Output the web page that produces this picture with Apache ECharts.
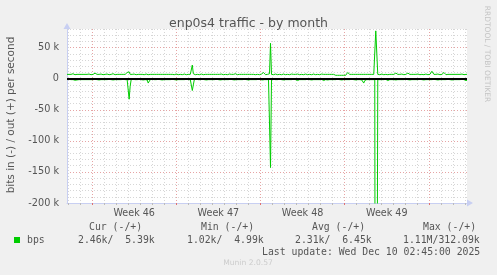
<!DOCTYPE html>
<html><head><meta charset="utf-8">
<script src="https://cdn.jsdelivr.net/npm/echarts@6/dist/echarts.min.js"></script>
<style>html,body{margin:0;padding:0;background:#f0f0f0;}#c{width:497px;height:275px;}</style>
</head><body><div id="c"></div>
<script>
// Time slots: one per 2 hours, 400 slots (~33 days)
const slotCount = 400;
const dayGridStart = 1;      // first slot on a day boundary
const slotsPerDay = 12;
const weekLineSlots = [25, 109, 193, 277, 361];
const weekLabelSlots = [67, 151, 235, 319];
const weekLabels = ['Week 46', 'Week 47', 'Week 48', 'Week 49'];
const yTicks = [-200, -150, -100, -50, 0, 50];

// out (+) traffic, kbit/s
const outVals = [
7,7.5,7,6.5,7,7,8,7,6.5,7,7,7.5,7,6.5,7,7,7,7.5,7,6.5,
7,7,7.5,7,6.5,7,7,7,9,8,7,6.5,7,7,7.5,7,6.5,7,7,7,
7.5,7,6.5,7,7,7,8,7,6.5,7,7,7.5,7,6.5,7,7,7,6.5,7,9,
10,7.5,11,7,6.5,7,7,7.5,7,6.5,7,7,8,7,6.5,7,7,6.5,7,7.5,
7,6.5,7,7,7.5,7,6.5,7,8.5,7,6.5,7,7,7,6.5,7,7.5,7,6.5,7,
7,7,6.5,7,7.5,7,7,6.5,7,7.5,7,6.5,9,7,7,6.5,7,7.5,7,6.5,
7,7,6.5,7,9,22,8,7,6.5,7,7,7,6.5,7,7.5,7,6.5,7,7,6.5,
7,7.5,7,6.5,7,7,7,6.5,7,8.5,7,6.5,7,7,7.5,7,6.5,7,7,7,
6.5,7,7.5,7,7,6.5,7,7,8,7,6.5,7,7,7.5,7,6.5,7,7,7,6.5,
7,7.5,7,6.5,7,7,7,7.5,6.5,7,7,7,6.5,7,7.5,8,10,7,6.5,7,
7,7,8,57,7,7,6.5,7,7.5,7,6.5,7,7,7,6.5,7,7.5,7,6.5,7,
7,7,6.5,7,7.5,7,7,6.5,7,7,7.5,7,6.5,7,7,7,6.5,7,7.5,7,
6.5,7,7,7,6.5,7,7.5,7,6.5,7,7,7,6.5,7,7.5,7,7,6.5,7,7,
7,6.5,7,7.5,7,6.5,7,6,5.5,5.5,5.5,5.5,5.5,5.5,5.5,5.5,5.5,5.5,5.5,6,
10,7,7,6.5,7,7.5,7,6.5,7,7,7,6.5,7,7.5,7,6.5,7,7,7,6.5,
7,7.5,7,6.5,7,7,7,6.5,77,77,7,7,6.5,7,7.5,7,6.5,7,7,7,
6.5,7,7,7.5,7,6.5,7,7,9,8,7,6.5,7,7,7.5,7,6.5,7,7,7,
9,7.5,7,6.5,7,7,7,6.5,7,7,7.5,7,6.5,7,7,7,6.5,7,7.5,7,
6.5,7,7,7,12,10,7,6.5,7,7,7.5,7,6.5,7,7,7,10,7,6.5,7,
7,7.5,7,9,7,6.5,7,7,7,9,7,6.5,7,7,7.5,7,6.5,7,7,7
];
// in (-) traffic, kbit/s (drawn negative)
const inVals = [
-1.5,-1.5,-1,-1.5,-1.5,-2,-1.5,-1.5,-2.5,-3.5,-2,-1.5,-1.5,-1,-1.5,-1.5,-1.5,-2,-1.5,-1.5,
-1.5,-1,-1.5,-1.5,-1.5,-2,-1.5,-1.5,-1,-1.5,-1.5,-1.5,-2,-1.5,-1.5,-1,-1.5,-1.5,-1.5,-2,
-1.5,-1.5,-1,-1.5,-1.5,-1.5,-2,-1.5,-1.5,-1,-1.5,-1.5,-1.5,-2,-1.5,-1.5,-1,-1.5,-1.5,-2,
-1.5,-3,-33,-12,-1.5,-1.5,-1,-1.5,-1.5,-2,-1.5,-1.5,-1,-1.5,-1.5,-1.5,-2,-1.5,-1.5,-1,
-2,-7,-4,-1.5,-1.5,-1,-1.5,-1.5,-2,-1.5,-1.5,-1,-1.5,-1.5,-1.5,-2,-1.5,-1.5,-1,-1.5,
-1.5,-1.5,-2,-1.5,-1.5,-1,-1.5,-1.5,-1.5,-2,-1.5,-1.5,-1,-1.5,-1.5,-1.5,-2,-1.5,-1.5,-1,
-2.5,-1.5,-1.5,-1.5,-4,-19,-10,-1.5,-1.5,-1,-1.5,-1.5,-2,-1.5,-1.5,-1,-1.5,-1.5,-1.5,-2,
-1.5,-1.5,-1,-1.5,-1.5,-1.5,-2,-1.5,-1.5,-1,-1.5,-1.5,-1.5,-2,-1.5,-1.5,-1,-1.5,-1.5,-1.5,
-2,-1.5,-1.5,-1,-1.5,-1.5,-1.5,-2,-1.5,-1.5,-1,-1.5,-1.5,-1.5,-2,-1.5,-1.5,-1,-1.5,-1.5,
-1.5,-2,-1.5,-1.5,-1,-1.5,-1.5,-1.5,-2,-1.5,-1.5,-1,-1.5,-1.5,-1.5,-2,-1.5,-1.5,-1,-1.5,
-1.5,-1.5,-2,-143,-1.5,-1.5,-1,-1.5,-1.5,-2,-1.5,-1.5,-1,-1.5,-1.5,-1.5,-2,-1.5,-1.5,-1,
-1.5,-1.5,-1.5,-2,-1.5,-1.5,-1,-1.5,-1.5,-2,-3,-1.5,-1.5,-1,-1.5,-1.5,-1.5,-2,-1.5,-1.5,
-1,-1.5,-1.5,-1.5,-2,-1.5,-1.5,-1,-1.5,-1.5,-1.5,-2,-1.5,-1.5,-1,-1.5,-3,-1.5,-1.5,-1.5,
-2,-1.5,-1.5,-1,-1.5,-1.5,-1.5,-2,-1.5,-1.5,-1,-1.5,-1.5,-1.5,-2,-1.5,-1.5,-1,-1.5,-1.5,
-1.5,-2,-1.5,-1.5,-1,-1.5,-1.5,-1.5,-2,-1.5,-1.5,-1,-1.5,-1.5,-2,-4,-7,-3,-1.5,-1.5,
-1,-1.5,-1.5,-1.5,-2,-1.5,-1.5,-1.5,-1110,-1110,-1.5,-1,-1.5,-1.5,-1.5,-2,-1.5,-1.5,-1,-1.5,
-3,-1.5,-1.5,-1,-1.5,-1.5,-1.5,-3,-2,-1.5,-1.5,-1,-1.5,-1.5,-1.5,-2,-1.5,-1.5,-1,-1.5,
-1.5,-1.5,-2,-1.5,-1.5,-1,-1.5,-1.5,-1.5,-2,-1.5,-1.5,-1,-1.5,-1.5,-1.5,-2,-1.5,-1.5,-1,
-1.5,-1.5,-1.5,-2,-1.5,-1.5,-1,-1.5,-1.5,-1.5,-2,-1.5,-1.5,-1,-1.5,-1.5,-1.5,-2,-1.5,-1.5,
-1,-1.5,-1.5,-1.5,-2,-1.5,-1.5,-1,-1.5,-1.5,-1.5,-2,-1.5,-1.5,-1,-1.5,-1.5,-1.5,-3,-2.5
];

// Legend statistics
const statHeaders = ['Cur (-/+)', 'Min (-/+)', 'Avg (-/+)', 'Max (-/+)'];
const statIn  = ['2.46k', '1.02k', '2.31k', '1.11M'];
const statOut = ['5.39k', '4.99k', '6.45k', '312.09k'];
const seriesName = 'bps';
const lastUpdate = 'Last update: Wed Dec 10 02:45:00 2025';

const categories = [];
for (let i = 0; i < slotCount; i++) categories.push(String(i));

const GREEN = '#00cc00';
const TXT = '#555555';
const AXIS = '#c8cff2';
const MINOR = '#d6d6d6';
const MAJOR = '#e6a4a4';
const isDay = i => i >= dayGridStart && (i - dayGridStart) % slotsPerDay === 0;
const isWeek = i => weekLineSlots.indexOf(i) >= 0;

const mono = 'DejaVu Sans Mono';
const graphics = [];
// Right vertical credit
graphics.push({type:'text', x:487, y:54, rotation:-Math.PI/2,
  style:{text:'RRDTOOL / TOBI OETIKER', fontFamily:'DejaVu Sans', fontSize:7.5, fill:'#c4c4c4', align:'center', verticalAlign:'middle'}});
// Y axis title
graphics.push({type:'text', x:11, y:115, rotation:Math.PI/2,
  style:{text:'bits in (-) / out (+) per second', fontFamily:'DejaVu Sans', fontSize:10.5, fill:TXT, align:'center', verticalAlign:'middle'}});
// Legend
const headerX = [89, 201, 312, 423];
const valueX = [78, 187, 295, 403];
function pad(s, n){ while (s.length < n) s = ' ' + s; return s; }
for (let k = 0; k < 4; k++) {
  graphics.push({type:'text', x:headerX[k], y:227, style:{text:statHeaders[k], fontFamily:mono, fontSize:9.8, fill:TXT, align:'left', verticalAlign:'middle'}});
  graphics.push({type:'text', x:valueX[k], y:240, style:{text:statIn[k] + '/' + pad(statOut[k], 7), fontFamily:mono, fontSize:9.8, fill:TXT, align:'left', verticalAlign:'middle'}});
}
graphics.push({type:'rect', shape:{x:14, y:237, width:6, height:6}, style:{fill:GREEN}});
graphics.push({type:'text', x:27, y:240, style:{text:seriesName, fontFamily:mono, fontSize:9.8, fill:TXT, align:'left', verticalAlign:'middle'}});
graphics.push({type:'text', x:262, y:252, style:{text:lastUpdate, fontFamily:mono, fontSize:9.8, fill:TXT, align:'left', verticalAlign:'middle'}});
graphics.push({type:'text', x:248, y:263, style:{text:'Munin 2.0.57', fontFamily:'DejaVu Sans', fontSize:7.6, fill:'#cccccc', align:'center', verticalAlign:'middle'}});

const chart = echarts.init(document.getElementById('c'), null, {renderer:'canvas'});
chart.setOption({
  animation: false,
  backgroundColor: '#f0f0f0',
  title: {text:'enp0s4 traffic - by month', left:'center', top:12,
    textStyle:{fontFamily:'DejaVu Sans', fontSize:12.5, fontWeight:'normal', color:TXT}},
  grid: {left:67, right:30, top:29, bottom:72, show:true, backgroundColor:'#ffffff', borderWidth:0},
  xAxis: [
    {type:'category', data:categories, boundaryGap:false, position:'bottom', z:0,
     axisLine:{show:true, onZero:false, lineStyle:{color:AXIS, width:1}, symbol:['none','triangle'], symbolSize:[7,6], symbolOffset:[0,3]},
     axisTick:{show:true, interval:(i)=>isDay(i), length:2, lineStyle:{color:'#bbbbbb'}},
     axisLabel:{show:true, interval:(i)=>weekLabelSlots.indexOf(i)>=0, margin:5,
       formatter:(v,i)=>{const k=weekLabelSlots.indexOf(i); return k>=0?weekLabels[k]:'';},
       fontFamily:'DejaVu Sans', fontSize:9.6, color:TXT},
     splitLine:{show:true, interval:(i)=>isDay(i), lineStyle:{color:MINOR, width:1, type:[1,2]}}},
    {type:'category', data:categories, boundaryGap:false, position:'bottom', z:1,
     axisLine:{show:false, onZero:false},
     axisTick:{show:true, interval:(i)=>isWeek(i), length:2, lineStyle:{color:'#e07070'}},
     axisLabel:{show:false},
     splitLine:{show:true, interval:(i)=>isWeek(i), lineStyle:{color:MAJOR, width:1, type:[1,2]}}}
  ],
  yAxis: [
    {type:'value', min:-200, max:80, interval:50, position:'left', z:1,
     axisLine:{show:true, onZero:false, lineStyle:{color:AXIS, width:1}, symbol:['none','triangle'], symbolSize:[7,6], symbolOffset:[0,3]},
     axisTick:{show:false},
     axisLabel:{margin:8, fontFamily:'DejaVu Sans', fontSize:9.7, color:TXT,
       formatter:(v)=>yTicks.indexOf(v)<0?'':(v===0?'0':v+' k')},
     splitLine:{show:true, showMinLine:false, showMaxLine:false, lineStyle:{color:MAJOR, width:1, type:[1,2]}}},
    {type:'value', min:-200, max:80, interval:10, position:'left', z:0,
     axisLine:{show:false, onZero:false}, axisTick:{show:false}, axisLabel:{show:false},
     splitLine:{show:true, showMinLine:false, lineStyle:{color:MINOR, width:1, type:[1,2]}}}
  ],
  series: [
    {name:'in', type:'line', data:inVals, xAxisIndex:0, yAxisIndex:0, symbol:'none', clip:true,
     lineStyle:{color:GREEN, width:1}, itemStyle:{color:GREEN}, z:3},
    {name:'out', type:'line', data:outVals, xAxisIndex:0, yAxisIndex:0, symbol:'none', clip:true,
     lineStyle:{color:GREEN, width:1}, itemStyle:{color:GREEN}, z:3,
     markLine:{silent:true, symbol:'none', label:{show:false}, data:[{yAxis:0}],
       lineStyle:{color:'#000000', width:2, type:'solid'}}}
  ],
  graphic: graphics
});
</script></body></html>
